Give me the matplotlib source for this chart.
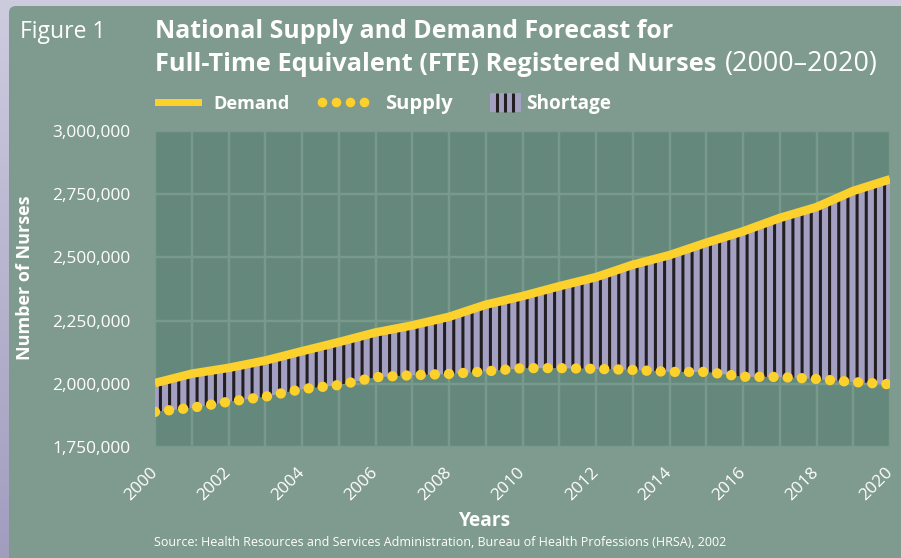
"""
Figure 1 — National Supply and Demand Forecast for FTE Registered Nurses (2000-2020)
HRSA 2002 projections, redrawn with matplotlib.
"""

import numpy as np
import matplotlib
matplotlib.use("Agg")
import matplotlib.pyplot as plt
from matplotlib.patches import FancyBboxPatch, Rectangle
from matplotlib.colors import LinearSegmentedColormap

# ============ data ============
years = list(range(2000, 2021))
demand = [2003000, 2040000, 2063000, 2092000, 2129000, 2165000, 2203000,
          2231000, 2265000, 2313000, 2347000, 2386000, 2422000, 2471000,
          2509000, 2558000, 2603000, 2656000, 2699000, 2763000, 2809000]
supply = [1889000, 1905000, 1929000, 1949000, 1979000, 1995000, 2026000,
          2034000, 2039000, 2049000, 2062000, 2062000, 2059000, 2055000,
          2047000, 2047000, 2028000, 2027000, 2019000, 2007000, 1998000]
yticks = [1750000, 2000000, 2250000, 2500000, 2750000, 3000000]
xticks = years[::2]

legend_labels = ["Demand", "Supply", "Shortage"]
title_1 = "National Supply and Demand Forecast for"
title_2 = "Full-Time Equivalent (FTE) Registered Nurses"
title_2b = "(2000\u20132020)"
source = ("Source: Health Resources and Services Administration, "
          "Bureau of Health Professions (HRSA), 2002")

# ============ style ============
W, H, DPI = 901, 558, 110
PANEL = "#7f9a8f"
PLOT = "#64897c"
GRID = "#7a998d"
YELLOW = "#fdd12b"
LAVENDER = "#a4a0c2"
DARK = "#221e22"
WHITE = "#ffffff"

plt.rcParams["font.family"] = ["Open Sans", "DejaVu Sans"]
plt.rcParams["hatch.linewidth"] = 2.0
plt.rcParams["hatch.color"] = DARK

fig = plt.figure(figsize=(W / DPI, H / DPI), dpi=DPI)

# background (lavender gradient + green panel), in pixel coords
bg = fig.add_axes([0, 0, 1, 1], zorder=0)
grad = np.linspace(0, 1, 256).reshape(-1, 1)
cmap = LinearSegmentedColormap.from_list("bg", ["#cdccdf", "#a19dbf"])
bg.imshow(grad, cmap=cmap, extent=[0, W, H, 0], aspect="auto")
bg.add_patch(FancyBboxPatch((9, 6), W + 20, H + 20,
                            boxstyle="round,pad=0,rounding_size=7",
                            fc=PANEL, ec="none"))
bg.set_xlim(0, W)
bg.set_ylim(H, 0)
bg.axis("off")

renderer = fig.canvas.get_renderer()


def fit(t, width):
    """scale a text so it spans `width` pixels"""
    w = t.get_window_extent(renderer).width
    t.set_fontsize(t.get_fontsize() * width / w)
    return t


# titles
bg.text(20, 38, "Figure 1", color=WHITE, fontsize=15, va="baseline")
fit(bg.text(155, 38, title_1, color=WHITE, fontsize=16, fontweight="bold",
            va="baseline"), 519)
t2 = fit(bg.text(155, 71, title_2, color=WHITE, fontsize=16, fontweight="bold",
                 va="baseline"), 561)
x2 = t2.get_window_extent(renderer).x1 + 8
fit(bg.text(x2, 71, title_2b, color=WHITE, fontsize=16, va="baseline"), 153)

# legend
bg.add_patch(Rectangle((155, 98.5), 47, 7.5, fc=YELLOW, ec="none"))
bg.plot([321.7, 336, 350, 364.3], [102.3] * 4, "o", color=YELLOW,
        ms=6.3, mec="none")
bg.add_patch(Rectangle((490, 93), 30.5, 19, fc=LAVENDER, ec="none"))
for xs in (496.7, 505, 513.3):
    bg.plot([xs, xs], [93, 112], color=DARK, lw=2.0, solid_capstyle="butt")
for x, lab in zip((213.5, 385.5, 526), legend_labels):
    fit(bg.text(x, 109, lab, color=WHITE, fontsize=11.8, fontweight="bold",
                va="baseline"), {"Demand": 76, "Supply": 67, "Shortage": 85}[lab])

# axis titles and source
bg.text(25, 278, "Number of Nurses", color=WHITE, fontsize=11.8,
        fontweight="bold", rotation=90, ha="center", va="center")
bg.text(484.5, 526, "Years", color=WHITE, fontsize=12.5, fontweight="bold",
        ha="center", va="baseline")
fit(bg.text(154, 546, source, color=WHITE, fontsize=8, va="baseline"), 571)

# ============ chart ============
ax = fig.add_axes([155 / W, 1 - 447 / H, 735 / W, 316 / H], zorder=1)
ax.set_facecolor(PLOT)

ax.fill_between(years, supply, demand, facecolor=LAVENDER, edgecolor=DARK,
                hatch="||", linewidth=0, zorder=2)
ax.plot(years, supply, color=YELLOW, lw=6.8, linestyle=(0, (0.001, 1.36)),
        dash_capstyle="round", zorder=4)
ax.plot(years, demand, color=YELLOW, lw=5.6, solid_joinstyle="miter",
        solid_capstyle="butt", zorder=5)

ax.set_xlim(2000, 2020)
ax.set_ylim(1750000, 3000000)
ax.set_xticks(years, minor=True)
ax.set_xticks(xticks)
ax.set_xticklabels([str(y) for y in xticks])
ax.set_yticks(yticks)
ax.set_yticklabels([f"{v:,}" for v in yticks])
ax.grid(which="both", color=GRID, lw=1.6)
ax.set_axisbelow(True)
for sp in ax.spines.values():
    sp.set_visible(False)

ax.tick_params(axis="both", which="both", length=0, colors=WHITE, labelsize=11.3)
ax.tick_params(axis="y", pad=16)
ax.tick_params(axis="x", pad=15)
plt.setp(ax.get_xticklabels(), rotation=45, ha="right", va="center",
         rotation_mode="anchor")
plt.setp(ax.get_yticklabels(), va="center_baseline")

fig.savefig("out.png", dpi=DPI)
